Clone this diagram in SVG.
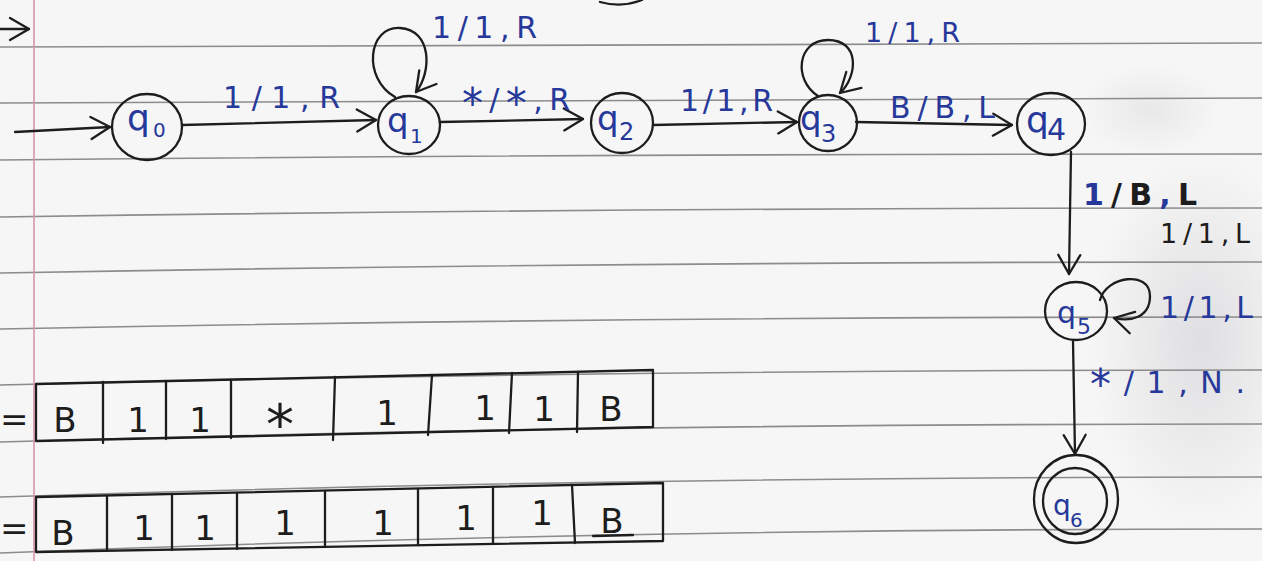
<svg xmlns="http://www.w3.org/2000/svg" width="1262" height="561" viewBox="0 0 1262 561">
<defs>
<style>
.rule{fill:none;stroke:#8c8c8c;stroke-width:1.6}
.ink{fill:none;stroke:#1d1d1d;stroke-width:2.3;stroke-linecap:round;stroke-linejoin:round}
.blue{fill:#26389a;font-family:"DejaVu Sans",sans-serif}
.blk{fill:#1d1d1d;font-family:"DejaVu Sans",sans-serif}
.lbl{font-size:30px}
.tape{font-size:34px;text-anchor:middle}
.star{font-size:42px}
</style>
<marker id="ah" viewBox="-22 -14 24 28" markerWidth="24" markerHeight="28" refX="0" refY="0" markerUnits="userSpaceOnUse" orient="auto">
<path d="M-19,-11 L0,0 L-19,11" fill="none" stroke="#1d1d1d" stroke-width="2.3" stroke-linecap="round" stroke-linejoin="round"/>
</marker>
<radialGradient id="sh" cx="0.5" cy="0.5" r="0.5">
<stop offset="0" stop-color="#a9a9b2" stop-opacity="0.3"/>
<stop offset="1" stop-color="#a9a9b2" stop-opacity="0"/>
</radialGradient>
</defs>
<rect width="1262" height="561" fill="#f6f6f6"/>
<ellipse cx="1200" cy="340" rx="110" ry="190" fill="url(#sh)"/>
<ellipse cx="1150" cy="110" rx="70" ry="45" fill="url(#sh)" opacity="0.6"/>
<g id="rules">
<path class="rule" d="M0,47 Q600,43 1262,43"/>
<path class="rule" d="M0,103 Q600,98 1262,98"/>
<path class="rule" d="M0,160 Q600,154 1262,154"/>
<path class="rule" d="M0,217 Q600,208 1262,208"/>
<path class="rule" d="M0,273 Q600,262 1262,262"/>
<path class="rule" d="M0,329 Q600,317 1262,317"/>
<path class="rule" d="M0,385 Q600,370 1262,370"/>
<path class="rule" d="M0,442 Q600,424 1262,424"/>
<path class="rule" d="M0,497 Q600,477 1262,477"/>
<path class="rule" d="M0,553 Q600,529 1262,529"/>
<line x1="34" y1="0" x2="34" y2="561" stroke="#d995a6" stroke-width="1.6"/>
</g>
<path class="ink" d="M600,2 Q622,8 642,0"/>
<g id="connectors">
<path class="ink" d="M0,29 L29,29" marker-end="url(#ah)"/>
<path class="ink" d="M15,132 L110,127" marker-end="url(#ah)"/>
<path class="ink" d="M182,125 L376,120" marker-end="url(#ah)"/>
<path class="ink" d="M440,122 L583,119" marker-end="url(#ah)"/>
<path class="ink" d="M653,125 L797,122" marker-end="url(#ah)"/>
<path class="ink" d="M856,122 L1012,125" marker-end="url(#ah)"/>
<path class="ink" d="M1071,152 L1069,274" marker-end="url(#ah)"/>
<path class="ink" d="M1073,341 L1075,454" marker-end="url(#ah)"/>
<path class="ink" d="M395,97 C362,78 368,26 400,28 C432,30 432,72 416,92" marker-end="url(#ah)"/>
<path class="ink" d="M818,96 C793,80 797,40 828,40 C860,40 858,76 840,93" marker-end="url(#ah)"/>
<path class="ink" d="M1100,300 C1106,276 1150,270 1150,296 C1150,318 1130,322 1114,318" marker-end="url(#ah)"/>
<text class="blue lbl" x="223" y="108" textLength="117" lengthAdjust="spacing">1/1,R</text>
<text class="blue lbl" x="432" y="38" textLength="105" lengthAdjust="spacing">1/1,R</text>
<text class="blue lbl" x="462" y="110" textLength="108" lengthAdjust="spacing"><tspan class="star" dy="8">*</tspan><tspan dy="-8">/</tspan><tspan class="star" dy="8">*</tspan><tspan dy="-8">,R</tspan></text>
<text class="blue lbl" x="680" y="111" textLength="93" lengthAdjust="spacing">1/1,R</text>
<text class="blue" x="865" y="42" font-size="27" textLength="95" lengthAdjust="spacing">1/1,R</text>
<text class="blue lbl" x="890" y="118" textLength="105" lengthAdjust="spacing">B/B,L</text>
<text class="blue lbl" x="1083" y="205" font-weight="bold" textLength="114" lengthAdjust="spacing"><tspan>1</tspan><tspan fill="#1d1d1d">/B</tspan><tspan>,</tspan><tspan fill="#1d1d1d">L</tspan></text>
<text class="blk" x="1160" y="243" font-size="27" textLength="90" lengthAdjust="spacing">1/1,L</text>
<text class="blue lbl" x="1160" y="318" textLength="93" lengthAdjust="spacing">1/1,L</text>
<text class="blue lbl" x="1090" y="393" textLength="155" lengthAdjust="spacing"><tspan class="star" dy="6">*</tspan><tspan dy="-6">/1,N.</tspan></text>
</g>
<g id="q0"><ellipse class="ink" cx="147" cy="127" rx="35" ry="33"/><text class="blue" x="127" y="130" font-size="36">q</text><text class="blue" x="153" y="137" font-size="20">0</text></g>
<g id="q1"><ellipse class="ink" cx="409" cy="125" rx="31" ry="29"/><text class="blue" x="387" y="132" font-size="34">q</text><text class="blue" x="410" y="143" font-size="20">1</text></g>
<g id="q2"><ellipse class="ink" cx="622" cy="123" rx="31" ry="30"/><text class="blue" x="597" y="130" font-size="34">q</text><text class="blue" x="619" y="140" font-size="24">2</text></g>
<g id="q3"><ellipse class="ink" cx="828" cy="123" rx="29" ry="28"/><text class="blue" x="800" y="130" font-size="34">q</text><text class="blue" x="821" y="142" font-size="24">3</text></g>
<g id="q4"><ellipse class="ink" cx="1051" cy="124" rx="34" ry="31"/><text class="blue" x="1026" y="132" font-size="36">q</text><text class="blue" x="1047" y="140" font-size="30">4</text></g>
<g id="q5"><ellipse class="ink" cx="1076" cy="311" rx="31" ry="29"/><text class="blue" x="1057" y="323" font-size="30">q</text><text class="blue" x="1077" y="334" font-size="22">5</text></g>
<g id="q6"><ellipse class="ink" cx="1076" cy="499" rx="42" ry="44"/><ellipse class="ink" cx="1075" cy="501" rx="32" ry="33"/><text class="blue" x="1053" y="515" font-size="28">q</text><text class="blue" x="1070" y="527" font-size="20">6</text></g>
<g id="tape1">
<path class="ink" d="M36,384 L653,370 L653,427 L36,441 Z"/>
<path class="ink" d="M103,382 L103,443 M166,381 L166,439 M231,380 L231,438 M335,377 L333,440 M432,375 L428,435 M512,373 L509,433 M578,372 L577,432"/>
<text class="blk" x="0" y="431" font-size="34">=</text>
<text class="blk tape" x="65" y="432">B</text>
<text class="blk tape" x="138" y="432">1</text>
<text class="blk tape" x="200" y="432">1</text>
<text class="blk tape" x="280" y="444" style="font-size:56px">*</text>
<text class="blk tape" x="387" y="425">1</text>
<text class="blk tape" x="485" y="420">1</text>
<text class="blk tape" x="544" y="421">1</text>
<text class="blk tape" x="611" y="421">B</text>
</g>
<g id="tape2">
<path class="ink" d="M36,497 L663,483 L663,541 L36,552 Z"/>
<path class="ink" d="M107,496 L107,551 M172,494 L172,550 M237,493 L237,549 M325,491 L325,547 M418,489 L418,545 M493,487 L493,544 M572,485 L575,543"/>
<text class="blk" x="0" y="540" font-size="34">=</text>
<text class="blk tape" x="63" y="545">B</text>
<text class="blk tape" x="144" y="540">1</text>
<text class="blk tape" x="205" y="540">1</text>
<text class="blk tape" x="285" y="535">1</text>
<text class="blk tape" x="383" y="535">1</text>
<text class="blk tape" x="466" y="530">1</text>
<text class="blk tape" x="542" y="525">1</text>
<text class="blk tape" x="612" y="533">B</text>
<path class="ink" d="M593,536 L633,535"/>
</g>
</svg>
